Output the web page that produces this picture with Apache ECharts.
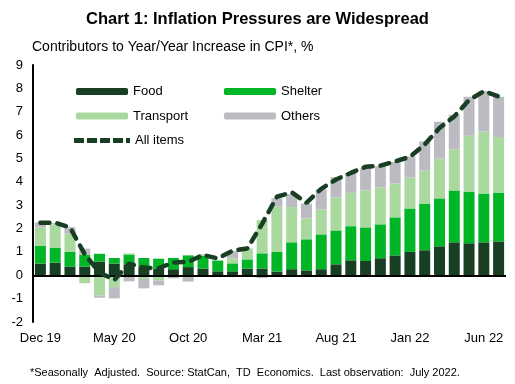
<!DOCTYPE html>
<html><head><meta charset="utf-8">
<script src="https://cdn.jsdelivr.net/npm/echarts@6/dist/echarts.min.js"></script>
<style>html,body{margin:0;padding:0;background:#fff}#c{width:515px;height:384px}</style>
</head><body><div id="c"></div>
<script>
var categories = ['Dec 19','Jan 20','Feb 20','Mar 20','Apr 20','May 20','Jun 20','Jul 20','Aug 20','Sep 20','Oct 20','Nov 20','Dec 20',
  'Jan 21','Feb 21','Mar 21','Apr 21','May 21','Jun 21','Jul 21','Aug 21','Sep 21','Oct 21','Nov 21','Dec 21',
  'Jan 22','Feb 22','Mar 22','Apr 22','May 22','Jun 22','Jul 22'];
var food = [0.50,0.54,0.37,0.37,0.58,0.50,0.46,0.36,0.28,0.26,0.35,0.29,0.17,0.17,0.29,0.29,0.16,0.26,0.21,0.26,0.47,0.64,0.61,0.73,0.85,1.00,1.07,1.24,1.41,1.37,1.41,1.45];
var shelter = [0.77,0.64,0.64,0.51,0.34,0.24,0.43,0.38,0.43,0.48,0.50,0.54,0.46,0.34,0.39,0.65,0.84,1.15,1.33,1.49,1.45,1.46,1.44,1.45,1.63,1.86,2.00,2.05,2.22,2.21,2.09,2.09];
var transport = [0.78,1.00,0.77,-0.34,-0.86,-0.51,0.05,-0.16,-0.22,-0.03,-0.05,0.04,-0.08,0.22,0.47,1.42,1.94,1.51,0.89,1.07,1.42,1.43,1.58,1.58,1.45,1.32,1.41,1.70,1.76,2.39,2.65,2.38];
var others = [0.21,0.05,0.28,0.26,-0.10,-0.48,-0.26,-0.40,-0.21,-0.10,-0.22,0.03,0.00,0.31,0.00,-0.12,0.35,0.55,0.64,0.85,0.86,0.85,0.95,0.91,0.92,0.91,1.25,1.58,1.48,1.67,1.74,1.72];
var allItems = [2.25,2.25,2.05,0.90,0.12,-0.20,0.50,0.33,0.30,0.55,0.57,0.87,0.72,1.05,1.15,2.20,3.36,3.55,3.10,3.70,4.10,4.38,4.64,4.69,4.87,5.07,5.60,6.30,6.80,7.50,7.88,7.65];
var yTicks = {min: -2, max: 9, interval: 1};

var FONT = 'Liberation Sans, Arial, sans-serif';
var cFood = '#183f24', cShelter = '#00b526', cTransport = '#aad9a0', cOthers = '#bcbbc1';
var dashIcon = 'path://M0,0h10v5h-10z M13,0h10v5h-10z M26,0h10v5h-10z M39,0h10v5h-10z M52,0h4v5h-4z';
var chart = echarts.init(document.getElementById('c'));
function lg(name, left, cy, icon) {
  var l = {
    data: [icon ? {name: name, icon: icon} : name], left: left, top: cy - 7, orient: 'vertical',
    itemWidth: icon ? 56 : 52, itemHeight: icon ? 5 : 7, itemGap: 0, padding: 0,
    textStyle: {fontFamily: FONT, fontSize: 13, color: '#000', lineHeight: 14},
    selectedMode: false
  };
  if (icon) l.itemStyle = {color: cFood};
  return l;
}
function bar(name, data, color) {
  return {name: name, type: 'bar', stack: 'cpi', data: data, barWidth: 11,
    itemStyle: {color: color}, emphasis: {disabled: true}};
}
var s0 = bar('Food', food, cFood);
s0.markLine = {silent: true, symbol: 'none', label: {show: false},
  lineStyle: {color: '#000', width: 2, type: 'solid'}, data: [{yAxis: 0}]};
chart.setOption({
  animation: false,
  title: [
    {text: 'Chart 1: Inflation Pressures are Widespread', left: 'center', top: 6,
      textStyle: {fontFamily: FONT, fontSize: 16.5, fontWeight: 'bold', color: '#000'}},
    {text: 'Contributors to Year/Year Increase in CPI*, %', left: 27, top: 35,
      textStyle: {fontFamily: FONT, fontSize: 14, fontWeight: 'normal', color: '#000'}},
    {text: '*Seasonally  Adjusted.  Source: StatCan,  TD  Economics.  Last observation:  July 2022.', left: 25, top: 362,
      textStyle: {fontFamily: FONT, fontSize: 11, fontWeight: 'normal', color: '#000'}}
  ],
  legend: [
    lg('Food', 76, 91.5), lg('Transport', 76, 116), lg('All items', 74, 140.5, dashIcon),
    lg('Shelter', 224, 91.5), lg('Others', 224, 116)
  ],
  grid: {left: 33, right: 9, top: 65, bottom: 62},
  xAxis: {
    type: 'category', data: categories,
    axisLine: {show: false, onZero: false}, axisTick: {show: false},
    axisLabel: {interval: 4, margin: 10, fontFamily: FONT, fontSize: 13, color: '#000'}
  },
  yAxis: {
    type: 'value', min: yTicks.min, max: yTicks.max, interval: yTicks.interval,
    splitLine: {show: false},
    axisLine: {show: true, lineStyle: {color: '#000', width: 2}},
    axisTick: {show: false},
    axisLabel: {margin: 10, fontFamily: FONT, fontSize: 13, color: '#000'}
  },
  series: [
    s0,
    bar('Shelter', shelter, cShelter),
    bar('Transport', transport, cTransport),
    bar('Others', others, cOthers),
    {name: 'All items', type: 'line', data: allItems, symbol: 'none', z: 5,
      lineStyle: {color: cFood, width: 4.5, type: [9, 8], cap: 'round'},
      itemStyle: {color: cFood}, emphasis: {disabled: true}}
  ]
});
</script></body></html>
